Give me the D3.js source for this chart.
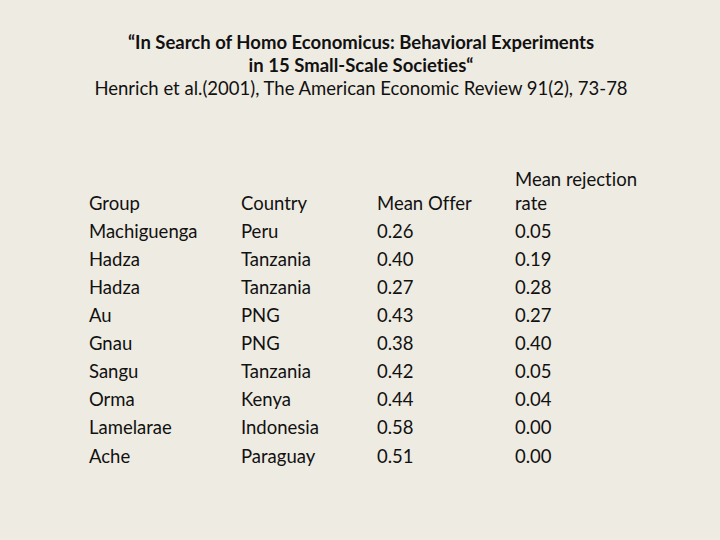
<!DOCTYPE html>
<html>
<head>
<meta charset="utf-8">
<script src="https://cdn.jsdelivr.net/npm/d3@7"></script>
<style>
  html, body { margin: 0; padding: 0; background: #eeebe2; }
  svg { display: block; }
  text { font-variant-ligatures: none; }
</style>
</head>
<body>
<svg id="chart" width="720" height="540"></svg>
<script>
// Dati della tabella
var titleLines = [
  "\u201CIn Search of Homo Economicus: Behavioral Experiments",
  "in 15 Small-Scale Societies\u201C"
];
var citation = "Henrich et al.(2001), The American Economic Review 91(2), 73-78";

var headers = ["Group", "Country", "Mean Offer", "Mean rejection|rate"];
var groups = ["Machiguenga", "Hadza", "Hadza", "Au", "Gnau", "Sangu", "Orma", "Lamelarae", "Ache"];
var countries = ["Peru", "Tanzania", "Tanzania", "PNG", "PNG", "Tanzania", "Kenya", "Indonesia", "Paraguay"];
var meanOffer = [0.26, 0.40, 0.27, 0.43, 0.38, 0.42, 0.44, 0.58, 0.51];
var rejectionRate = [0.05, 0.19, 0.28, 0.27, 0.40, 0.05, 0.04, 0.00, 0.00];

var svg = d3.select("#chart");
var font = "Lato, 'Open Sans', sans-serif";

svg.append("rect").attr("width", 720).attr("height", 540).attr("fill", "#eeebe2");

// Titolo
svg.selectAll("text.title")
  .data(titleLines)
  .enter()
  .append("text")
  .attr("class", "title")
  .attr("x", 361)
  .attr("y", function(d, i) { return 49 + i * 23; })
  .attr("text-anchor", "middle")
  .style("font-family", font)
  .style("font-weight", "bold")
  .style("font-size", "18.5px")
  .style("fill", "#111")
  .text(function(d) { return d; });

svg.append("text")
  .attr("x", 361)
  .attr("y", 95)
  .attr("text-anchor", "middle")
  .style("font-family", font)
  .style("font-size", "18.5px")
  .style("fill", "#111")
  .text(citation);

// Scale per colonne e righe
var xCol = d3.scaleOrdinal()
  .domain([0, 1, 2, 3])
  .range([89, 241, 377, 515]);

var yRow = d3.scalePoint()
  .domain(d3.range(groups.length + 1))
  .range([209.5, 462.5]);

var fmt = d3.format(".2f");
var rows = groups.map(function(g, i) {
  return [g, countries[i], fmt(meanOffer[i]), fmt(rejectionRate[i])];
});

// Intestazioni
headers.forEach(function(h, c) {
  var parts = h.split("|");
  parts.forEach(function(p, k) {
    svg.append("text")
      .attr("x", xCol(c))
      .attr("y", yRow(0) - (parts.length - 1 - k) * 23.5)
      .style("font-family", font)
      .style("font-size", "18.5px")
      .style("fill", "#111")
      .text(p);
  });
});

// Celle
rows.forEach(function(r, i) {
  svg.selectAll(null)
    .data(r)
    .enter()
    .append("text")
    .attr("x", function(d, c) { return xCol(c); })
    .attr("y", yRow(i + 1))
    .style("font-family", font)
    .style("font-size", "18.5px")
    .style("fill", "#111")
    .text(function(d) { return d; });
});
</script>
</body>
</html>
